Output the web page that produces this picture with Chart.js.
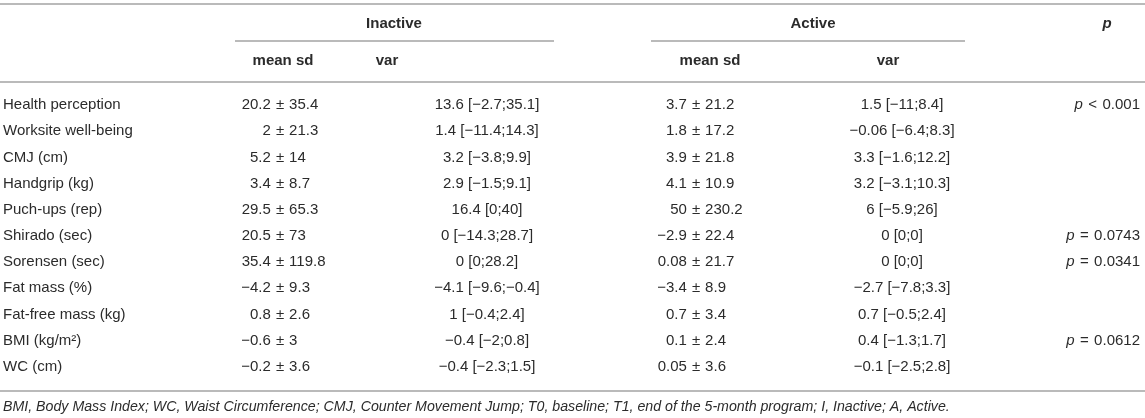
<!DOCTYPE html>
<html>
<head>
<meta charset="utf-8">
<script src="https://cdn.jsdelivr.net/npm/chart.js@4.4.1/dist/chart.umd.min.js"></script>
<style>
  html, body { margin: 0; padding: 0; background: #fff; }
  #wrap { width: 1145px; height: 418px; }
</style>
</head>
<body>
<div id="wrap"><canvas id="table1"></canvas></div>
<script>
// rows of the table
const rows = ['Health perception', 'Worksite well-being', 'CMJ (cm)', 'Handgrip (kg)', 'Puch-ups (rep)',
  'Shirado (sec)', 'Sorensen (sec)', 'Fat mass (%)', 'Fat-free mass (kg)', 'BMI (kg/m²)', 'WC (cm)']

// inactive group
const inactiveMean = [20.2, 2, 5.2, 3.4, 29.5, 20.5, 35.4, -4.2, 0.8, -0.6, -0.2]
const inactiveSd = [35.4, 21.3, 14, 8.7, 65.3, 73, 119.8, 9.3, 2.6, 3, 3.6]
const inactiveVar = [13.6, 1.4, 3.2, 2.9, 16.4, 0, 0, -4.1, 1, -0.4, -0.4]
const inactiveLow = [-2.7, -11.4, -3.8, -1.5, 0, -14.3, 0, -9.6, -0.4, -2, -2.3]
const inactiveHigh = [35.1, 14.3, 9.9, 9.1, 40, 28.7, 28.2, -0.4, 2.4, 0.8, 1.5]

// active group
const activeMean = [3.7, 1.8, 3.9, 4.1, 50, -2.9, 0.08, -3.4, 0.7, 0.1, 0.05]
const activeSd = [21.2, 17.2, 21.8, 10.9, 230.2, 22.4, 21.7, 8.9, 3.4, 2.4, 3.6]
const activeVar = [1.5, -0.06, 3.3, 3.2, 6, 0, 0, -2.7, 0.7, 0.4, -0.1]
const activeLow = [-11, -6.4, -1.6, -3.1, -5.9, 0, 0, -7.8, -0.5, -1.3, -2.5]
const activeHigh = [8.4, 8.3, 12.2, 10.3, 26, 0, 0, 3.3, 2.4, 1.7, 2.8]

// p values
const pSign = ['<', null, null, null, null, '=', '=', null, null, '=', null]
const pValue = [0.001, null, null, null, null, 0.0743, 0.0341, null, null, 0.0612, null]

const groups = ['Inactive', 'Active']
const subHeads = ['mean sd', 'var']
const pHead = 'p'
const footnote = 'BMI, Body Mass Index; WC, Waist Circumference; CMJ, Counter Movement Jump; T0, baseline; T1, end of the 5-month program; I, Inactive; A, Active.'

const FONT = "'Liberation Sans', Arial, Helvetica, sans-serif"
const INK = '#2b2b2b'
const RULE = '#a3a3a3'

// column anchors on the x scale (pixels across the page)
const COL = { label: 3, iPm: 280, iVar: 487, aPm: 696, aVar: 902, p: 1140 }

const num = v => String(v).replace('-', '\u2212')
const varText = (m, lo, hi) => rows.map((r, i) => `${num(m[i])} [${num(lo[i])};${num(hi[i])}]`)

const column = (x, kind, extra) => Object.assign({
  type: 'scatter',
  data: rows.map(r => ({ x: x, y: r })),
  pointRadius: 0,
  kind: kind
}, extra)

const tableText = {
  id: 'tableText',
  afterDatasetsDraw(chart) {
    const ctx = chart.ctx
    ctx.save()
    ctx.fillStyle = INK
    ctx.textBaseline = 'middle'
    chart.data.datasets.forEach((ds, di) => {
      const meta = chart.getDatasetMeta(di)
      meta.data.forEach((pt, i) => {
        const x = pt.x, y = pt.y
        ctx.font = `15px ${FONT}`
        if (ds.kind === 'label') {
          ctx.textAlign = 'left'
          ctx.fillText(rows[i], x, y)
        } else if (ds.kind === 'pm') {
          // keep the ± signs lined up down the column
          const w = ctx.measureText('\u00b1').width + 10
          ctx.textAlign = 'center'
          ctx.fillText('\u00b1', x, y)
          ctx.textAlign = 'right'
          ctx.fillText(num(ds.mean[i]), x - w / 2, y)
          ctx.textAlign = 'left'
          ctx.fillText(num(ds.sd[i]), x + w / 2, y)
        } else if (ds.kind === 'text') {
          ctx.textAlign = 'center'
          ctx.fillText(ds.cells[i], x, y)
        } else if (ds.kind === 'p' && pSign[i]) {
          const rest = ` \u200a${pSign[i]}\u200a ${pValue[i]}`
          ctx.textAlign = 'right'
          ctx.fillText(rest, x, y)
          const w = ctx.measureText(rest).width
          ctx.font = `italic 15px ${FONT}`
          ctx.fillText('p', x - w, y)
        }
      })
    })
    ctx.restore()
  },
  beforeDraw(chart) {
    const ctx = chart.ctx
    const xs = chart.scales.x
    const W = chart.width
    const a = chart.chartArea
    ctx.save()
    // rules
    ctx.strokeStyle = RULE
    ctx.lineWidth = 1.5
    const hline = (x0, x1, y) => { ctx.beginPath(); ctx.moveTo(x0, y); ctx.lineTo(x1, y); ctx.stroke() }
    hline(0, W, 4)
    hline(xs.getPixelForValue(235), xs.getPixelForValue(554), 41)
    hline(xs.getPixelForValue(651), xs.getPixelForValue(965), 41)
    hline(0, W, 82)
    hline(0, W, a.bottom + 11)
    // header text
    ctx.fillStyle = INK
    ctx.textBaseline = 'middle'
    ctx.textAlign = 'center'
    ctx.font = `bold 15px ${FONT}`
    ctx.fillText(groups[0], xs.getPixelForValue(394), 24)
    ctx.fillText(groups[1], xs.getPixelForValue(813), 24)
    ctx.fillText(subHeads[0], xs.getPixelForValue(283), 61)
    ctx.fillText(subHeads[1], xs.getPixelForValue(387), 61)
    ctx.fillText(subHeads[0], xs.getPixelForValue(710), 61)
    ctx.fillText(subHeads[1], xs.getPixelForValue(888), 61)
    ctx.font = `italic bold 15px ${FONT}`
    ctx.fillText(pHead, xs.getPixelForValue(1107), 24)
    ctx.restore()
  }
}

new Chart(document.getElementById('table1'), {
  data: {
    datasets: [
      column(COL.label, 'label'),
      column(COL.iPm, 'pm', { mean: inactiveMean, sd: inactiveSd }),
      column(COL.iVar, 'text', { cells: varText(inactiveVar, inactiveLow, inactiveHigh) }),
      column(COL.aPm, 'pm', { mean: activeMean, sd: activeSd }),
      column(COL.aVar, 'text', { cells: varText(activeVar, activeLow, activeHigh) }),
      column(COL.p, 'p')
    ]
  },
  options: {
    responsive: true,
    maintainAspectRatio: false,
    animation: false,
    events: [],
    layout: { padding: { top: 92, bottom: 0, left: 3, right: 5 } },
    scales: {
      x: { type: 'linear', min: 3, max: 1140, display: false },
      y: { type: 'category', labels: rows, offset: true, display: false }
    },
    plugins: {
      legend: { display: false },
      tooltip: { enabled: false },
      title: {
        display: true,
        position: 'bottom',
        align: 'start',
        text: footnote,
        color: INK,
        font: { family: FONT, size: 14.2, style: 'italic', weight: 'normal' },
        padding: { top: 19, bottom: 2 }
      }
    }
  },
  plugins: [tableText]
})
</script>
</body>
</html>
